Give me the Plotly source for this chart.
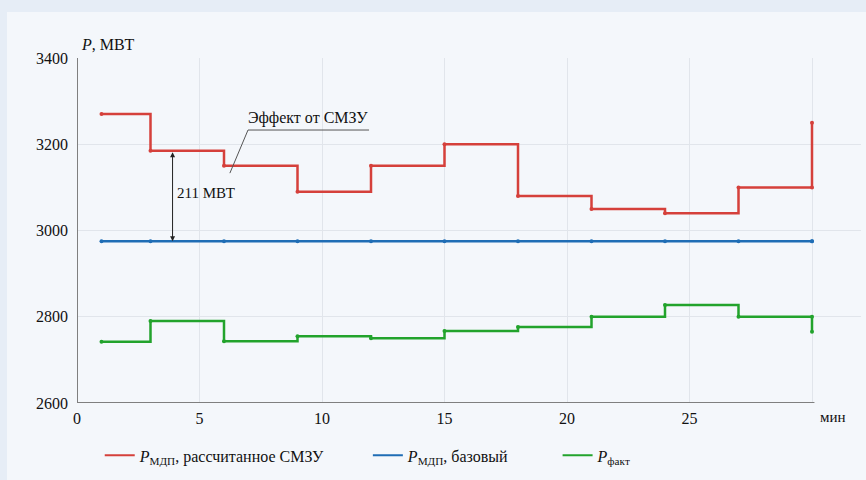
import plotly.graph_objects as go

# Step points (minutes) and values, MW
t_steps = [1, 3, 6, 9, 12, 15, 18, 21, 24, 27, 30, 30]
p_smzu = [3270, 3185, 3150, 3090, 3150, 3200, 3080, 3050, 3040, 3100, 3100, 3250]
p_base = [2975, 2975, 2975, 2975, 2975, 2975, 2975, 2975, 2975, 2975, 2975, 2975]
p_fact = [2742, 2790, 2743, 2755, 2750, 2767, 2776, 2800, 2827, 2800, 2800, 2765]

x_ticks = [0, 5, 10, 15, 20, 25]
y_ticks = [2600, 2800, 3000, 3200, 3400]

effect_x = 3.9
effect_label = "211 МВТ"

FONT = "Liberation Serif, Times New Roman, serif"
RED = "#d5403b"
BLUE = "#1f6db5"
GREEN = "#22a32c"

fig = go.Figure()
series = [
    (p_smzu, RED, "<i>P</i><sub>МДП</sub>, рассчитанное СМЗУ", "legend"),
    (p_base, BLUE, "<i>P</i><sub>МДП</sub>, базовый", "legend2"),
    (p_fact, GREEN, "<i>P</i><sub>факт</sub>", "legend3"),
]
for vals, col, name, lg in series:
    fig.add_trace(go.Scatter(
        x=t_steps, y=vals, mode="lines+markers", line_shape="hv",
        line=dict(color=col, width=2.5), marker=dict(color=col, size=4),
        name=name, showlegend=False, hoverinfo="skip",
    ))
    fig.add_trace(go.Scatter(
        x=[None], y=[None], mode="lines", line=dict(color=col, width=2),
        name=name, legend=lg, showlegend=True,
    ))

# double arrow for the effect
fig.add_annotation(x=effect_x, y=p_base[1], ax=effect_x, ay=p_smzu[1],
                   xref="x", yref="y", axref="x", ayref="y", text="",
                   showarrow=True, arrowhead=2, startarrowhead=2, arrowside="end+start",
                   arrowsize=1, arrowwidth=1, arrowcolor="#222",
                   standoff=0, startstandoff=0)
fig.add_annotation(x=5.27, y=3088, xref="x", yref="y", text=effect_label, showarrow=False,
                   font=dict(family=FONT, size=15, color="#111"))
# leader line for "Эффект от СМЗУ"
fig.add_shape(type="path", xref="x", yref="y",
              path="M 6.24 3133 L 6.98 3233 L 11.92 3233",
              line=dict(color="#555", width=1))
fig.add_annotation(x=9.43, y=3236, xref="x", yref="y", yanchor="bottom",
                   text="Эффект от СМЗУ", showarrow=False,
                   font=dict(family=FONT, size=16, color="#111"))

# axis lines
fig.add_shape(type="line", xref="x", yref="y", x0=0, x1=30.1, y0=2600, y1=2600,
              line=dict(color="#7f7f7f", width=2))
fig.add_shape(type="line", xref="x", yref="y", x0=0, x1=0, y0=2600, y1=3400,
              line=dict(color="#7f7f7f", width=2))

# inner panel background
fig.add_shape(type="rect", xref="paper", yref="paper", x0=-0.0893, x1=1.01, y0=-0.25, y1=1.1333,
              fillcolor="#f4f7fb", line=dict(width=0), layer="below")

fig.add_annotation(x=0.003, y=1.038, xref="paper", yref="paper", xanchor="left", yanchor="middle",
                   text="<i>P</i>, МВТ", showarrow=False, font=dict(family=FONT, size=16, color="#111"))
fig.add_annotation(x=0.964, y=-0.04, xref="paper", yref="paper", xanchor="center", yanchor="middle",
                   text="мин", showarrow=False, font=dict(family=FONT, size=15, color="#111"))

legend_common = dict(orientation="h", xref="paper", yref="paper", yanchor="middle",
                     bgcolor="rgba(0,0,0,0)", font=dict(family=FONT, size=16, color="#111"),
                     itemwidth=30)
fig.update_layout(
    width=866, height=480,
    margin=dict(l=77, r=5, t=58, b=77),
    paper_bgcolor="#e6edf6",
    plot_bgcolor="rgba(0,0,0,0)",
    font=dict(family=FONT, size=14, color="#111"),
    xaxis=dict(range=[0, 32], tickvals=x_ticks + [30], ticktext=[str(v) for v in x_ticks] + [""],
               showgrid=True, gridcolor="#e1e5eb", gridwidth=1, zeroline=False,
               showline=False, ticks="", ticklabelstandoff=4,
               tickfont=dict(family=FONT, size=16, color="#111")),
    yaxis=dict(range=[2600, 3400], tickvals=y_ticks, showgrid=True, gridcolor="#e1e5eb",
               gridwidth=1, zeroline=False, showline=False, ticks="", ticklabelstandoff=8,
               tickfont=dict(family=FONT, size=16, color="#111")),
    legend=dict(x=0.029, y=-0.152, **legend_common),
    legend2=dict(x=0.371, y=-0.152, **legend_common),
    legend3=dict(x=0.613, y=-0.152, **legend_common),
    showlegend=True,
)

fig.write_html("out.html", config={"displayModeBar": False},
               post_script="document.body.style.margin='0px';document.body.style.overflow='hidden';")
